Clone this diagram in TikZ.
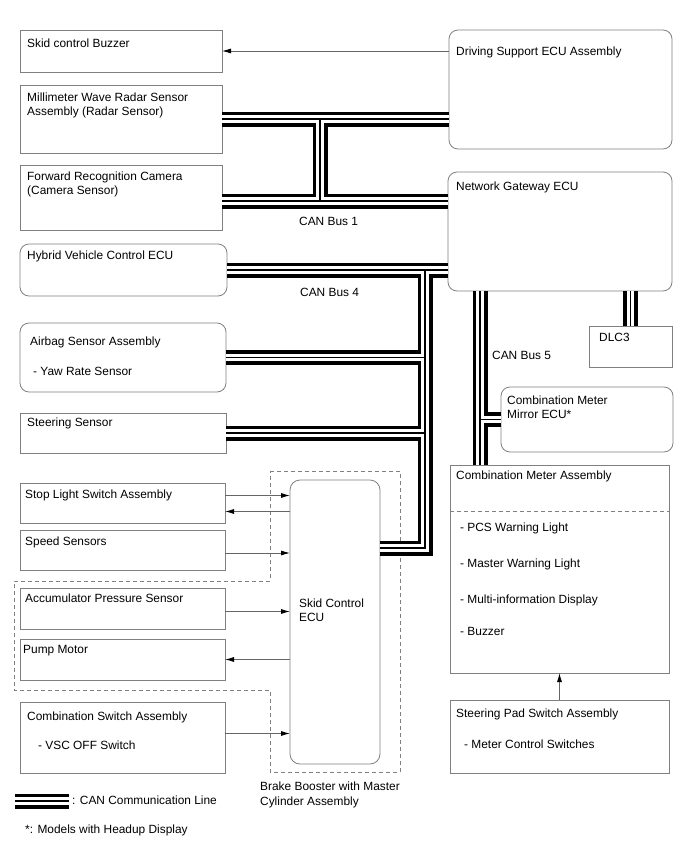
\documentclass[tikz,border=0pt]{standalone}
\usepackage{fontspec}
\setmainfont{Liberation Sans}
\usetikzlibrary{arrows.meta}

\tikzset{
  box/.style={draw=gray, line width=0.8pt, anchor=north west, inner sep=0pt, outer sep=0pt},
  rbox/.style={box, rounded corners=9pt},
  txt/.style={anchor=north west, inner sep=0pt, align=left},
  arr/.style={draw=black!60, line width=0.8pt, -{Latex[length=9pt,width=5pt,color=black]}},
  canbus/.style={line width=15pt, postaction={draw=white, line width=7.4pt}, postaction={draw=black, line width=1.2pt}},
  dashbox/.style={draw=gray, line width=0.8pt, dash pattern=on 4pt off 3pt},
}

\begin{document}
\begin{tikzpicture}[x=1pt, y=-1pt, font=\fontsize{11.9}{14.5}\selectfont]
    \useasboundingbox (0,0) rectangle (688,852);

    % left column
    \node[box, minimum width=202pt, minimum height=42pt] (buzzer) at (20,30) {};
    \node[txt] (buzzer-t) at ([shift={(7,8.5)}]buzzer.north west) {Skid control Buzzer};

    \node[box, minimum width=202pt, minimum height=68pt] (mmw) at (20,85) {};
    \node[txt] (mmw-t) at ([shift={(7,7.5)}]mmw.north west) {Millimeter Wave Radar Sensor\\Assembly (Radar Sensor)};

    \node[box, minimum width=202pt, minimum height=65pt] (cam) at (20,165) {};
    \node[txt] (cam-t) at ([shift={(7,6.5)}]cam.north west) {Forward Recognition Camera\\(Camera Sensor)};

    \node[rbox, minimum width=207pt, minimum height=52pt] (hv) at (20,244) {};
    \node[txt] (hv-t) at ([shift={(7,6.5)}]hv.north west) {Hybrid Vehicle Control ECU};

    \node[rbox, minimum width=206pt, minimum height=69pt] (air) at (20,323) {};
    \node[txt] (air-t) at ([shift={(10,13.5)}]air.north west) {Airbag Sensor Assembly\\[15.5pt]\hspace*{3pt}- Yaw Rate Sensor};

    \node[box, minimum width=206pt, minimum height=40pt] (steer) at (20,413) {};
    \node[txt] (steer-t) at ([shift={(7,4.5)}]steer.north west) {Steering Sensor};

    \node[box, minimum width=205pt, minimum height=40pt] (stop) at (20,483) {};
    \node[txt] (stop-t) at ([shift={(5,6.5)}]stop.north west) {Stop Light Switch Assembly};

    \node[box, minimum width=205pt, minimum height=40pt] (speed) at (20,530) {};
    \node[txt] (speed-t) at ([shift={(5,6.5)}]speed.north west) {Speed Sensors};

    \node[box, minimum width=205pt, minimum height=41pt] (acc) at (20,588) {};
    \node[txt] (acc-t) at ([shift={(5,5.5)}]acc.north west) {Accumulator Pressure Sensor};

    \node[box, minimum width=205pt, minimum height=41pt] (pump) at (20,639) {};
    \node[txt] (pump-t) at ([shift={(3,6.5)}]pump.north west) {Pump Motor};

    \node[box, minimum width=205pt, minimum height=71pt] (combsw) at (20,702) {};
    \node[txt] (combsw-t) at ([shift={(7,9.5)}]combsw.north west) {Combination Switch Assembly\\[14.5pt]\hspace*{11pt}- VSC OFF Switch};

    % brake booster
    \draw[dashbox] (270,471) -- (400,471) -- (400,772) -- (270,772) -- (270,690) -- (14,690) -- (14,581) -- (270,581) -- cycle;
    \node[rbox, rounded corners=10pt, minimum width=90pt, minimum height=284pt] (skid) at (290,480) {};
    \node[txt] (skid-t) at ([shift={(9,118.5)}]skid.north west) {Skid Control\\ECU};
    \node[txt] (bb-t) at (260,782) {Brake Booster with Master\\Cylinder Assembly};

    % right column
    \node[rbox, minimum width=223pt, minimum height=119pt] (ds) at (449,30) {};
    \node[txt] (ds-t) at ([shift={(7,16.5)}]ds.north west) {Driving Support ECU Assembly};

    \node[rbox, minimum width=224pt, minimum height=119pt] (gw) at (448,172) {};
    \node[txt] (gw-t) at ([shift={(8,9.5)}]gw.north west) {Network Gateway ECU};

    \node[box, minimum width=83pt, minimum height=41pt] (dlc) at (589,326) {};
    \node[txt] (dlc-t) at ([shift={(10,6.5)}]dlc.north west) {DLC3};

    \node[rbox, minimum width=172pt, minimum height=65pt] (mirror) at (501,387) {};
    \node[txt] (mirror-t) at ([shift={(6,8.5)}]mirror.north west) {Combination Meter\\Mirror ECU*};

    \node[box, minimum width=219pt, minimum height=208pt] (cma) at (450,465) {};
    \node[txt] (cma-t) at ([shift={(6,5.5)}]cma.north west) {Combination Meter Assembly};
    \draw[dashbox] ([yshift=-46pt]cma.north west) -- ([yshift=-46pt]cma.north east);
    \foreach \i/\dy/\item in {1/57.5/PCS Warning Light, 2/93.5/Master Warning Light,
                             3/129.5/Multi-information Display, 4/162.5/Buzzer} {
        \node[txt] (cma-\i) at ([shift={(10,\dy)}]cma.north west) {- \item};
    }

    \node[box, minimum width=219pt, minimum height=73pt] (sp) at (450,700) {};
    \node[txt] (sp-t) at ([shift={(6,8.5)}]sp.north west) {Steering Pad Switch Assembly\\[16.5pt]\hspace*{8pt}- Meter Control Switches};

    % CAN buses
    \coordinate (b1n) at (320,119);
    \coordinate (b1s) at (320,201);
    \draw[canbus] (mmw.east) -- (mmw.east -| ds.west)
        (b1s -| cam.east) -- (b1s -| gw.west)
        (b1n) -- (b1s);
    \node[txt, anchor=west] (bus1) at (299,221) {CAN Bus 1};

    \coordinate (b4n) at (425,270);
    \coordinate (b4s) at (425,548);
    \draw[canbus] (hv.east) -- (hv.east -| gw.west)
        (b4n) -- (b4s) -- (b4s -| skid.east)
        (air.east) -- (air.east -| b4n)
        (steer.east) -- (steer.east -| b4n);
    \node[txt, anchor=west] (bus4) at (300,292) {CAN Bus 4};

    \coordinate (b5) at (480,300);
    \draw[canbus] (b5 |- gw.south) -- (b5 |- cma.north)
        (mirror.west) -- (mirror.west -| b5);
    \draw[canbus] (dlc.north) -- (dlc.north |- gw.south);
    \node[txt, anchor=west] (bus5) at (492,355) {CAN Bus 5};

    % signal lines
    \draw[arr] (buzzer.east -| ds.west) -- (buzzer.east);
    \path ([yshift=7.5pt]stop.east) coordinate (stopin)
          ([yshift=-8.5pt]stop.east) coordinate (stopout)
          ([yshift=-3pt]speed.east) coordinate (speedin)
          ([yshift=-3pt]acc.east) coordinate (accin)
          ([yshift=4pt]combsw.east) coordinate (combswin);
    \draw[arr] (stopin) -- (stopin -| skid.west);
    \draw[arr] (stopout -| skid.west) -- (stopout);
    \draw[arr] (speedin) -- (speedin -| skid.west);
    \draw[arr] (accin) -- (accin -| skid.west);
    \draw[arr] (pump.east -| skid.west) -- (pump.east);
    \draw[arr] (combswin) -- (combswin -| skid.west);
    \draw[arr] (sp.north) -- (sp.north |- cma.south);

    % legend
    \coordinate (leg) at (15,801);
    \draw[canbus] (leg) -- ++(54,0);
    \node[txt, anchor=west] (leg-t) at (72,800) {: CAN Communication Line};
    \node[txt, anchor=west] (note) at (25,830) {*: Models with Headup Display};

\end{tikzpicture}
\end{document}
